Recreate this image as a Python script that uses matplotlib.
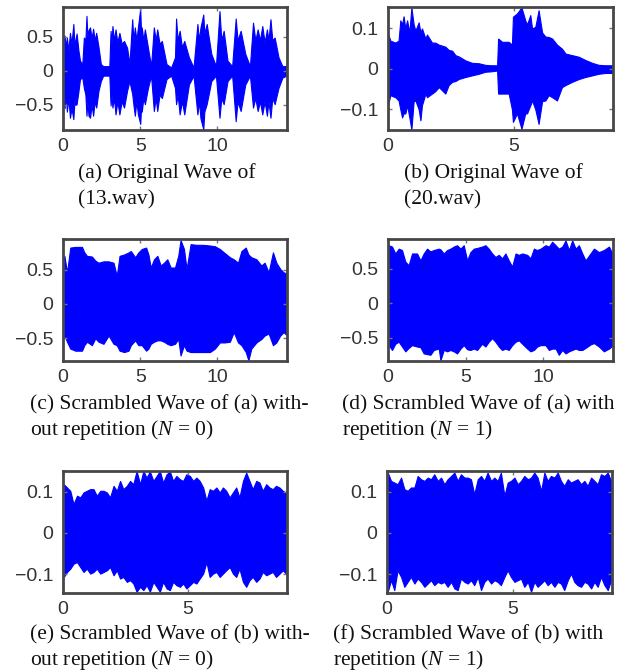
import matplotlib
matplotlib.use("Agg")
import matplotlib.pyplot as plt
import numpy as np

plt.rcParams['mathtext.fontset'] = 'custom'
plt.rcParams['mathtext.rm'] = 'Liberation Serif'
plt.rcParams['mathtext.it'] = 'Liberation Serif:italic'

# ---------------- data (envelopes) ----------------
# (a) original wave of 13.wav
a_t = [0.0, 0.1, 0.18, 0.25, 0.35, 0.45, 0.55, 0.67, 0.75, 0.8, 0.88, 1.0, 1.1, 1.25, 1.35, 1.45, 1.52, 1.58,
       1.65, 1.75, 1.85, 1.95, 2.05, 2.15, 2.3, 2.45, 2.6, 2.8, 3.0, 3.08, 3.14, 3.2, 3.3, 3.4, 3.52, 3.65,
       3.8, 3.95, 4.15, 4.3, 4.48, 4.56, 4.65, 4.75, 4.85, 5.0, 5.06, 5.1, 5.2, 5.3, 5.5, 5.7, 5.88, 6.0,
       6.1, 6.25, 6.4, 6.7, 7.0, 7.25, 7.32, 7.42, 7.55, 7.7, 7.85, 8.15, 8.45, 8.7, 8.8, 8.9, 9.08, 9.15,
       9.3, 9.6, 9.9, 10.13, 10.25, 10.4, 10.65, 10.95, 11.18, 11.3, 11.5, 11.8, 12.1, 12.3, 12.45, 12.6,
       12.75, 12.9, 13.05, 13.2, 13.3, 13.43, 13.55, 13.7, 13.95, 14.2, 14.45]
a_up = [0.45, 0.52, 0.35, 0.49, 0.30, 0.56, 0.40, 0.69, 0.35, 0.45, 0.55, 0.30, 0.15, 0.10, 0.49, 0.45, 0.81, 0.50,
        0.60, 0.64, 0.48, 0.62, 0.45, 0.56, 0.35, 0.10, 0.07, 0.07, 0.07, 0.59, 0.40, 0.66, 0.45, 0.61, 0.42, 0.56,
        0.40, 0.44, 0.34, 0.10, 0.76, 0.45, 0.64, 0.45, 0.64, 0.92, 0.50, 0.64, 0.45, 0.61, 0.34, 0.07, 0.64, 0.45,
        0.61, 0.40, 0.44, 0.10, 0.05, 0.20, 0.77, 0.45, 0.59, 0.35, 0.44, 0.20, 0.05, 0.69, 0.45, 0.64, 0.83, 0.55,
        0.69, 0.25, 0.07, 0.88, 0.45, 0.59, 0.15, 0.07, 0.77, 0.45, 0.59, 0.25, 0.07, 0.71, 0.45, 0.61,
        0.45, 0.66, 0.42, 0.61, 0.45, 0.76, 0.45, 0.49, 0.20, 0.07, 0.07]
a_lo = [-0.40, -0.55, -0.35, -0.60, -0.40, -0.69, -0.55, -0.71, -0.40, -0.50, -0.49, -0.30, -0.12, -0.10, -0.25, -0.35, -0.66, -0.45,
        -0.66, -0.69, -0.50, -0.66, -0.45, -0.54, -0.29, -0.15, -0.07, -0.07, -0.07, -0.51, -0.35, -0.54, -0.40, -0.64, -0.45, -0.64,
        -0.45, -0.54, -0.29, -0.15, -0.34, -0.50, -0.66, -0.45, -0.64, -0.78, -0.50, -0.60, -0.40, -0.49, -0.25, -0.07, -0.59, -0.40,
        -0.59, -0.35, -0.40, -0.12, -0.07, -0.25, -0.49, -0.35, -0.64, -0.45, -0.64, -0.20, -0.07, -0.64, -0.45, -0.70, -0.86, -0.60,
        -0.49, -0.15, -0.07, -0.69, -0.40, -0.49, -0.15, -0.07, -0.74, -0.45, -0.59, -0.20, -0.07, -0.54, -0.40, -0.59,
        -0.45, -0.64, -0.45, -0.66, -0.45, -0.69, -0.40, -0.49, -0.25, -0.10, -0.07]

# (b) original wave of 20.wav
b_t = [0.0, 0.09, 0.29, 0.42, 0.49, 0.56, 0.62, 0.69, 0.76, 0.85, 0.93, 1.02, 1.09, 1.22, 1.29,
       1.35, 1.49, 1.55, 1.75, 1.88, 2.02, 2.28, 2.41, 2.55, 2.68, 2.81, 3.08, 3.34, 3.61, 3.87,
       4.1, 4.34, 4.38, 4.54, 4.8, 4.93, 4.97, 5.13, 5.31, 5.46, 5.53, 5.66, 5.73, 5.86, 5.99,
       6.13, 6.26, 6.39, 6.53, 6.72, 6.92, 7.06, 7.32, 7.59, 7.85, 8.12, 8.38, 8.65, 8.95]
b_up = [0.088, 0.07, 0.065, 0.07, 0.12, 0.11, 0.13, 0.10, 0.12, 0.09, 0.152, 0.11, 0.095, 0.115, 0.09,
        0.10, 0.075, 0.085, 0.065, 0.065, 0.06, 0.055, 0.047, 0.045, 0.034, 0.031, 0.021, 0.015, 0.014, 0.010,
        0.009, 0.009, 0.075, 0.067, 0.067, 0.06, 0.129, 0.137, 0.152, 0.12, 0.11, 0.133, 0.10, 0.104, 0.145,
        0.09, 0.08, 0.079, 0.075, 0.06, 0.05, 0.038, 0.034, 0.030, 0.022, 0.015, 0.01, 0.009, 0.009]
b_lo = [-0.09, -0.065, -0.07, -0.078, -0.10, -0.12, -0.11, -0.11, -0.09, -0.12, -0.15, -0.08, -0.078, -0.10, -0.127,
        -0.09, -0.061, -0.07, -0.061, -0.055, -0.045, -0.061, -0.04, -0.032, -0.03, -0.025, -0.02, -0.016, -0.012, -0.007,
        -0.006, -0.004, -0.061, -0.061, -0.061, -0.10, -0.131, -0.11, -0.148, -0.11, -0.11, -0.09, -0.078, -0.1, -0.136,
        -0.08, -0.078, -0.065, -0.07, -0.078, -0.045, -0.04, -0.032, -0.025, -0.02, -0.016, -0.012, -0.01, -0.01]

# (c) scrambled (a), N = 0
c_t = [0.0, 0.09, 0.26, 0.47, 0.8, 1.23, 1.38, 1.55, 1.87, 2.09, 2.3, 2.62, 2.95, 3.27, 3.48,
       3.66, 3.96, 4.24, 4.39, 4.67, 4.88, 5.1, 5.38, 5.53, 5.68, 5.89, 6.11, 6.32, 6.54, 6.75,
       6.97, 7.25, 7.46, 7.61, 7.83, 8.0, 8.26, 8.65, 9.08, 9.51, 9.83, 10.15, 10.47, 10.8, 11.05,
       11.33, 11.55, 11.83, 12.0, 12.19, 12.52, 12.84, 13.05, 13.31, 13.59, 13.81, 14.06, 14.28, 14.5]
c_up = [0.55, 0.70, 0.46, 0.82, 0.83, 0.83, 0.75, 0.70, 0.69, 0.63, 0.60, 0.62, 0.62, 0.60, 0.41,
        0.70, 0.72, 0.75, 0.77, 0.68, 0.75, 0.80, 0.82, 0.72, 0.53, 0.65, 0.70, 0.56, 0.60, 0.65,
        0.53, 0.53, 0.70, 0.93, 0.80, 0.51, 0.87, 0.86, 0.86, 0.85, 0.84, 0.80, 0.74, 0.68, 0.65,
        0.60, 0.77, 0.82, 0.72, 0.68, 0.65, 0.56, 0.60, 0.46, 0.75, 0.60, 0.51, 0.46, 0.44]
c_lo = [-0.50, -0.46, -0.55, -0.65, -0.68, -0.68, -0.60, -0.55, -0.60, -0.50, -0.55, -0.58, -0.46, -0.58, -0.60,
        -0.68, -0.70, -0.68, -0.60, -0.53, -0.60, -0.60, -0.68, -0.65, -0.58, -0.55, -0.53, -0.53, -0.55, -0.58,
        -0.60, -0.58, -0.51, -0.75, -0.60, -0.68, -0.70, -0.70, -0.70, -0.70, -0.65, -0.56, -0.56, -0.55, -0.41,
        -0.56, -0.60, -0.70, -0.82, -0.65, -0.56, -0.51, -0.46, -0.43, -0.60, -0.56, -0.46, -0.41, -0.46]

# (d) scrambled (a), N = 1
d_t = [0.0, 0.04, 0.26, 0.47, 0.69, 0.9, 1.12, 1.33, 1.55, 1.87, 2.09, 2.3, 2.52, 2.73, 2.95,
       3.27, 3.38, 3.59, 3.81, 4.02, 4.24, 4.45, 4.67, 4.88, 5.1, 5.31, 5.53, 5.74, 6.06, 6.28,
       6.49, 6.71, 6.92, 7.14, 7.35, 7.57, 7.78, 8.0, 8.22, 8.43, 8.65, 8.97, 9.18, 9.4, 9.61,
       9.83, 10.15, 10.37, 10.58, 10.8, 11.01, 11.23, 11.44, 11.66, 11.87, 12.09, 12.3, 12.52, 12.73,
       13.05, 13.27, 13.59, 13.91, 14.24, 14.5]
d_up = [0.65, 0.84, 0.82, 0.72, 0.79, 0.77, 0.60, 0.55, 0.72, 0.72, 0.62, 0.72, 0.79, 0.75, 0.77,
        0.79, 0.78, 0.72, 0.77, 0.79, 0.82, 0.84, 0.79, 0.84, 0.62, 0.74, 0.79, 0.80, 0.82, 0.84,
        0.79, 0.72, 0.67, 0.70, 0.65, 0.72, 0.62, 0.53, 0.72, 0.70, 0.72, 0.70, 0.65, 0.79, 0.77,
        0.79, 0.84, 0.82, 0.89, 0.84, 0.79, 0.82, 0.91, 0.77, 0.91, 0.79, 0.84, 0.72, 0.62,
        0.72, 0.79, 0.74, 0.77, 0.82, 0.70]
d_lo = [-0.55, -0.61, -0.68, -0.59, -0.56, -0.63, -0.70, -0.65, -0.61, -0.63, -0.64, -0.73, -0.74, -0.75, -0.68,
        -0.66, -0.83, -0.68, -0.70, -0.68, -0.70, -0.73, -0.66, -0.61, -0.67, -0.68, -0.66, -0.68, -0.59, -0.63,
        -0.56, -0.51, -0.56, -0.63, -0.68, -0.66, -0.68, -0.61, -0.56, -0.54, -0.59, -0.66, -0.70, -0.68, -0.63,
        -0.61, -0.61, -0.68, -0.66, -0.66, -0.75, -0.68, -0.73, -0.70, -0.68, -0.66, -0.68, -0.68, -0.65,
        -0.60, -0.58, -0.63, -0.70, -0.66, -0.61]

# (e) and (f) share the same sampling instants
ef_t = [0.03, 0.16, 0.29, 0.42, 0.56, 0.69, 0.82, 0.95, 1.09, 1.22, 1.35, 1.49, 1.62, 1.75, 1.88,
        2.02, 2.15, 2.28, 2.41, 2.55, 2.68, 2.81, 2.94, 3.08, 3.21, 3.34, 3.47, 3.61, 3.74, 3.87,
        4.00, 4.14, 4.27, 4.40, 4.53, 4.67, 4.80, 4.93, 5.07, 5.20, 5.33, 5.46, 5.60, 5.73, 5.86,
        5.99, 6.13, 6.26, 6.39, 6.52, 6.66, 6.79, 6.92, 7.05, 7.19, 7.32, 7.45, 7.58, 7.72, 7.85,
        7.98, 8.12, 8.25, 8.38, 8.51, 8.65, 8.78, 8.91, 8.95]
e_up = [0.118, 0.110, 0.102, 0.070, 0.090, 0.086, 0.098, 0.102, 0.106, 0.106, 0.090, 0.102, 0.102, 0.098, 0.086,
        0.114, 0.102, 0.126, 0.106, 0.114, 0.126, 0.118, 0.150, 0.118, 0.150, 0.134, 0.149, 0.126, 0.138, 0.150,
        0.122, 0.142, 0.149, 0.126, 0.138, 0.130, 0.126, 0.142, 0.138, 0.126, 0.134, 0.126, 0.110, 0.078, 0.106,
        0.102, 0.110, 0.098, 0.110, 0.102, 0.086, 0.098, 0.110, 0.086, 0.126, 0.146, 0.126, 0.106, 0.126, 0.122,
        0.102, 0.118, 0.110, 0.106, 0.114, 0.110, 0.102, 0.098, 0.098]
e_lo = [-0.107, -0.095, -0.087, -0.075, -0.071, -0.083, -0.095, -0.087, -0.099, -0.095, -0.087, -0.099, -0.095, -0.091, -0.083,
        -0.103, -0.091, -0.111, -0.107, -0.119, -0.115, -0.123, -0.143, -0.131, -0.139, -0.127, -0.143, -0.119, -0.131, -0.143,
        -0.119, -0.135, -0.139, -0.119, -0.127, -0.131, -0.123, -0.135, -0.127, -0.119, -0.123, -0.111, -0.099, -0.071, -0.107,
        -0.099, -0.095, -0.107, -0.099, -0.091, -0.083, -0.099, -0.107, -0.087, -0.119, -0.131, -0.115, -0.107, -0.119, -0.111,
        -0.095, -0.103, -0.099, -0.095, -0.107, -0.099, -0.091, -0.099, -0.099]
f_up = [0.146, 0.126, 0.122, 0.118, 0.134, 0.106, 0.102, 0.110, 0.110, 0.138, 0.130, 0.126, 0.134, 0.130, 0.142,
        0.126, 0.134, 0.118, 0.130, 0.138, 0.146, 0.126, 0.142, 0.134, 0.134, 0.130, 0.094, 0.130, 0.138, 0.126,
        0.146, 0.126, 0.134, 0.126, 0.146, 0.090, 0.122, 0.126, 0.134, 0.118, 0.126, 0.138, 0.130, 0.134, 0.146,
        0.134, 0.102, 0.146, 0.126, 0.138, 0.134, 0.146, 0.126, 0.114, 0.130, 0.122, 0.126, 0.130, 0.118, 0.126,
        0.114, 0.134, 0.126, 0.118, 0.142, 0.138, 0.146, 0.126, 0.126]
f_lo = [-0.143, -0.115, -0.139, -0.091, -0.107, -0.131, -0.119, -0.107, -0.123, -0.111, -0.119, -0.131, -0.123, -0.115, -0.127,
        -0.119, -0.123, -0.119, -0.131, -0.119, -0.135, -0.139, -0.111, -0.119, -0.123, -0.115, -0.127, -0.107, -0.139, -0.119,
        -0.111, -0.123, -0.115, -0.119, -0.127, -0.107, -0.091, -0.107, -0.119, -0.115, -0.111, -0.131, -0.119, -0.143, -0.119,
        -0.131, -0.123, -0.115, -0.127, -0.119, -0.131, -0.119, -0.123, -0.139, -0.115, -0.099, -0.119, -0.127, -0.131, -0.119,
        -0.123, -0.135, -0.119, -0.131, -0.107, -0.127, -0.139, -0.115, -0.115]

# axes settings
long_xlim = (0, 14.5)
short_xlim = (0, 8.95)
long_xticks = [0, 5, 10]
short_xticks = [0, 5]
big_yticks = [-0.5, 0, 0.5]
big_ylabels = ['\u22120.5', '0', '0.5']
small_yticks = [-0.1, 0, 0.1]
small_ylabels = ['\u22120.1', '0', '0.1']

captions = [
    ["(a) Original Wave of", "(13.wav)"],
    ["(b) Original Wave of", "(20.wav)"],
    ["(c) Scrambled Wave of (a) with-", r"out repetition ($N$ = 0)"],
    ["(d) Scrambled Wave of (a) with", r"repetition ($N$ = 1)"],
    ["(e) Scrambled Wave of (b) with-", r"out repetition ($N$ = 0)"],
    ["(f) Scrambled Wave of (b) with", r"repetition ($N$ = 1)"],
]

panels = [
    (a_t, a_up, a_lo, long_xlim, (-0.87, 0.94), long_xticks, big_yticks, big_ylabels),
    (b_t, b_up, b_lo, short_xlim, (-0.151, 0.153), short_xticks, small_yticks, small_ylabels),
    (c_t, c_up, c_lo, long_xlim, (-0.83, 0.945), long_xticks, big_yticks, big_ylabels),
    (d_t, d_up, d_lo, long_xlim, (-0.84, 0.93), long_xticks, big_yticks, big_ylabels),
    (ef_t, e_up, e_lo, short_xlim, (-0.146, 0.150), short_xticks, small_yticks, small_ylabels),
    (ef_t, f_up, f_lo, short_xlim, (-0.146, 0.150), short_xticks, small_yticks, small_ylabels),
]

W, H = 624, 672
fig = plt.figure(figsize=(W / 100, H / 100), dpi=100)

# pixel boxes: left, top, right, bottom
boxes = [(63, 7, 287, 130), (388, 7, 613, 130),
         (63, 239, 287, 361), (388, 239, 613, 361),
         (63, 471, 287, 593), (387, 471, 612, 593)]
# caption first-line baseline positions (pixels)
cap_pos = [(78, 178), (404, 178), (30, 409), (342, 409), (30, 639), (333, 639)]

blue = '#0000ff'
frame = '#474747'
for i, (t, up, lo, xl, yl, xt, yt, ylab) in enumerate(panels):
    l, tp, r, b = boxes[i]
    ax = fig.add_axes([l / W, 1 - b / H, (r - l) / W, (b - tp) / H])
    ax.fill_between(t, lo, up, color=blue, linewidth=0.8, edgecolor=blue)
    ax.set_xlim(*xl)
    ax.set_ylim(*yl)
    ax.set_xticks(xt)
    ax.set_xticklabels([str(v) for v in xt])
    ax.set_yticks(yt)
    ax.set_yticklabels(ylab)
    for s in ax.spines.values():
        s.set_color(frame)
        s.set_linewidth(2.0)
    ax.tick_params(direction='in', length=3, width=1, color='#777777',
                   top=True, right=True, labelsize=14, labelcolor='#333333')
    ax.tick_params(axis='x', pad=6)
    ax.tick_params(axis='y', pad=7)
    for lab in ax.get_xticklabels() + ax.get_yticklabels():
        lab.set_family(['Liberation Sans', 'DejaVu Sans'])
    cx, cy = cap_pos[i]
    for j, line in enumerate(captions[i]):
        fig.text(cx / W, 1 - (cy + 26 * j) / H, line, ha='left', va='baseline',
                 fontsize=15.5, family='Liberation Serif', color='#111111')

fig.savefig('out.png', dpi=100)
